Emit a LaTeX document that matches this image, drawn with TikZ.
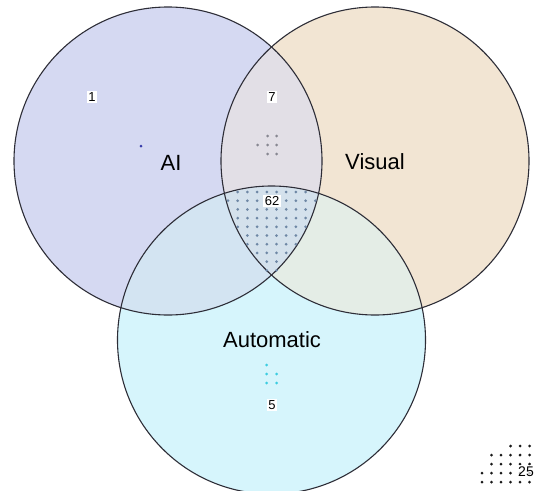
\documentclass[tikz,border=0pt]{standalone}
\usepackage{fontspec}
\setmainfont{Liberation Sans}
\definecolor{aionly}{RGB}{213,217,242}
\definecolor{visonly}{RGB}{242,229,211}
\definecolor{autoonly}{RGB}{214,245,252}
\definecolor{aivis}{RGB}{226,223,230}
\definecolor{aiauto}{RGB}{211,228,242}
\definecolor{visauto}{RGB}{228,237,230}
\definecolor{allthree}{RGB}{212,225,236}
\definecolor{edgegray}{RGB}{45,45,55}
\definecolor{dotcentre}{RGB}{110,135,165}
\definecolor{dotaivis}{RGB}{135,135,145}
\definecolor{dotauto}{RGB}{60,205,225}
\definecolor{dotai}{RGB}{55,60,170}
\definecolor{dotnone}{RGB}{25,25,25}

% the three sets
\def\aiset{(168,161) circle (154pt)}
\def\visset{(375,161) circle (154pt)}
\def\autoset{(271.5,340) circle (154pt)}

\begin{document}
\begin{tikzpicture}[x=1pt,y=-1pt,
  setline/.style={draw=edgegray, line width=1.1pt},
  count/.style={fill=white, inner sep=1.6pt, font=\fontsize{13}{14}\selectfont},
  setname/.style={inner sep=0pt, font=\fontsize{22}{24}\selectfont},
  dot/.style={radius=1.5pt},
]
\useasboundingbox (0,0) rectangle (543,490);

% base fills
\fill[aionly] \aiset;
\fill[visonly] \visset;
\fill[autoonly] \autoset;

% pairwise overlaps
\begin{scope}
  \clip \aiset;
  \fill[aivis] \visset;
  \fill[aiauto] \autoset;
\end{scope}
\begin{scope}
  \clip \visset;
  \fill[visauto] \autoset;
\end{scope}
% triple overlap
\begin{scope}
  \clip \aiset;
  \clip \visset;
  \fill[allthree] \autoset;
\end{scope}

% outlines
\draw[setline] \aiset;
\draw[setline] \visset;
\draw[setline] \autoset;

% one dot per member: AI only
\fill[dotai] (141,146) circle[dot];

% AI and Visual: 7
\foreach \x/\y in {267.7/136, 276.7/136,
                   257.7/145, 267.7/145, 276.7/145,
                   267.7/154, 276.7/154}
  \fill[dotaivis] (\x,\y) circle[dot];

% Automatic only: 5
\foreach \x/\y in {266.7/365,
                   266.7/374, 276.7/374,
                   266.7/383, 276.7/383}
  \fill[dotauto] (\x,\y) circle[dot];

% all three: 62
\foreach \y/\first/\last in {192/1/8, 200.7/0/9, 209.4/1/8, 218.1/1/8,
                             226.8/1/8, 235.5/2/7, 244.2/2/7, 252.9/3/6,
                             261.6/4/5, 270.3/4/5}
  \foreach \j in {\first,...,\last}
    \fill[dotcentre] ({228+9.7*\j},\y) circle[dot];

% none of the sets: 25
\foreach \y/\first in {446/4, 455/2, 464/2, 473/1, 482/1}
  \foreach \k in {\first,...,6}
    \fill[dotnone] ({472.5+9.5*\k},\y) circle[dot];

% set names
\node[setname] (ailabel)   at (171,163) {AI};
\node[setname] (vislabel)  at (375,162) {Visual};
\node[setname] (autolabel) at (272,340) {Automatic};

% region counts
\node[count] (cai)     at (92,97)   {1};
\node[count] (caivis)  at (272,97)  {7};
\node[count] (call)    at (272,201) {62};
\node[count] (cauto)   at (272,405) {5};
\node[count, font=\fontsize{14}{15}\selectfont, fill opacity=0.7, text opacity=1] (cnone) at (526,472) {25};
\end{tikzpicture}
\end{document}
